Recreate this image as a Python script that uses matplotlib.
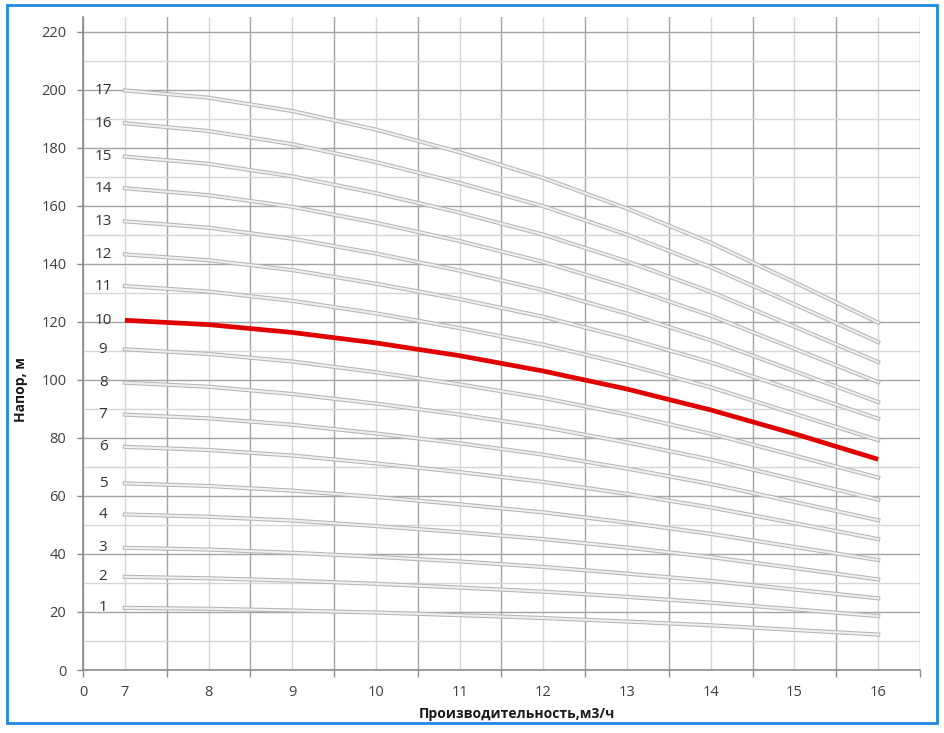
import numpy as np
import matplotlib.pyplot as plt
import matplotlib.patheffects as pe
from matplotlib.patches import Rectangle

plt.rcParams['font.family'] = ['Open Sans', 'DejaVu Sans']

# подача, м3/ч
q = [7, 8, 9, 10, 11, 12, 13, 14, 15, 16]

# напор по числу ступеней (1..17), м
h1 = [21.4, 21.1, 20.5, 19.8, 18.9, 17.9, 16.7, 15.4, 13.8, 12.2]
h2 = [32.1, 31.6, 30.8, 29.7, 28.4, 27.0, 25.2, 23.2, 20.9, 18.6]
h3 = [42.1, 41.5, 40.4, 39.0, 37.4, 35.5, 33.2, 30.7, 27.7, 24.7]
h4 = [53.6, 52.8, 51.5, 49.6, 47.5, 45.1, 42.2, 38.9, 35.1, 31.2]
h5 = [64.3, 63.4, 61.8, 59.6, 57.1, 54.3, 50.8, 46.9, 42.4, 37.9]
h6 = [76.9, 75.8, 73.9, 71.2, 68.2, 64.8, 60.7, 56.0, 50.6, 45.1]
h7 = [88.0, 86.7, 84.5, 81.5, 78.1, 74.2, 69.4, 64.1, 57.9, 51.6]
h8 = [99.0, 97.6, 95.1, 91.8, 88.0, 83.7, 78.4, 72.5, 65.6, 58.7]
h9 = [110.5, 108.9, 106.3, 102.6, 98.4, 93.7, 88.0, 81.4, 73.9, 66.3]
h10 = [120.5, 119.0, 116.3, 112.7, 108.3, 103.0, 96.8, 89.6, 81.4, 72.6]
h11 = [132.3, 130.4, 127.2, 122.9, 117.8, 112.1, 105.2, 97.4, 88.3, 79.2]
h12 = [143.2, 141.2, 137.8, 133.1, 127.8, 121.7, 114.3, 106.0, 96.3, 86.6]
h13 = [154.6, 152.4, 148.6, 143.5, 137.6, 130.9, 122.8, 113.6, 103.0, 92.3]
h14 = [166.0, 163.6, 159.6, 154.1, 147.8, 140.6, 131.9, 122.1, 110.7, 99.2]
h15 = [176.9, 174.4, 170.1, 164.3, 157.6, 150.0, 140.8, 130.3, 118.3, 106.1]
h16 = [188.4, 185.7, 181.2, 175.0, 167.8, 159.8, 150.0, 138.8, 126.0, 113.0]
h17 = [199.7, 197.2, 192.6, 186.2, 178.4, 169.5, 159.0, 147.2, 133.6, 119.7]

curves = [h1, h2, h3, h4, h5, h6, h7, h8, h9, h10,
          h11, h12, h13, h14, h15, h16, h17]
labels = [str(i) for i in range(1, 18)]
highlight = 10

fig = plt.figure(figsize=(9.45, 7.33), dpi=100)
ax = fig.add_axes([83 / 945, 63 / 733, 837 / 945, 653 / 733])

for i, h in enumerate(curves):
    if i + 1 == highlight:
        ax.plot(q, h, color='#e00000', lw=3.4, zorder=4, solid_capstyle='butt',
                solid_joinstyle='round')
    else:
        ax.plot(q, h, color='#efefef', lw=1.5, zorder=3, solid_joinstyle='round',
                path_effects=[pe.Stroke(linewidth=3.0, foreground='#b5b5b5'), pe.Normal()])
    ax.text(6.74, h[0], labels[i], ha='center', va='center', fontsize=11,
            color='#333333', zorder=5)

ax.set_xlim(6.5, 16.5)
ax.set_ylim(0, 225)

major_x = np.arange(6.5, 16.6, 1)
ax.set_xticks(major_x)
ax.set_xticklabels(['0'] + [''] * (len(major_x) - 1))
ax.set_xticks(q, minor=True)
ax.set_xticklabels([str(v) for v in q], minor=True)
ax.tick_params(axis='x', which='major', length=5, width=1, color='#8c8c8c', pad=6,
               labelsize=10.5, labelcolor='#404040')
ax.tick_params(axis='x', which='minor', length=0, pad=11, labelsize=10.5, labelcolor='#404040')

ax.set_yticks(np.arange(0, 221, 20))
ax.set_yticks(np.arange(10, 221, 20), minor=True)
ax.tick_params(axis='y', which='major', length=4, width=1, color='#8c8c8c', pad=8,
               labelsize=10.5, labelcolor='#404040')
ax.tick_params(axis='y', which='minor', length=0)

ax.grid(which='major', color='#a3a3a3', lw=1.0, zorder=1)
ax.grid(which='minor', color='#d6d6d6', lw=1.0, zorder=1)
ax.set_axisbelow(True)

for s in ['top', 'right']:
    ax.spines[s].set_visible(False)
for s in ['left', 'bottom']:
    ax.spines[s].set_color('#8c8c8c')
    ax.spines[s].set_linewidth(1.2)

ax.set_xlabel('Производительность,м3/ч', fontsize=10, fontweight='bold', color='#1a1a1a')
ax.xaxis.set_label_coords(0.518, -0.056)
ax.set_ylabel('Напор, м', fontsize=10, fontweight='bold', color='#1a1a1a')
ax.yaxis.set_label_coords(-0.066, 0.429)

# синяя рамка вокруг рисунка
fig.patches.append(Rectangle((7 / 945, 10 / 733), 930 / 945, 718 / 733,
                             transform=fig.transFigure, fill=False,
                             edgecolor='#1e88e5', lw=2.0))

fig.savefig('out.png', dpi=100)
